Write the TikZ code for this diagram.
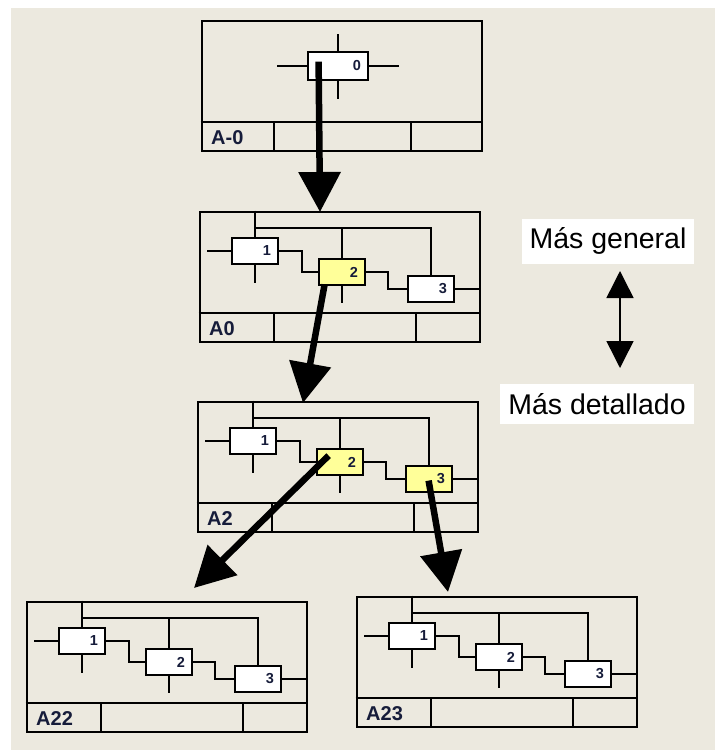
\documentclass[tikz,border=0pt]{standalone}
\usepackage{fontspec}
\setmainfont{Liberation Sans}
\usepackage{tikz}
\usetikzlibrary{arrows.meta}

\definecolor{paper}{HTML}{ECE9DF}
\definecolor{pale}{HTML}{FFFF99}
\definecolor{ink}{HTML}{161C3A}

\tikzset{
  sheet/.style={draw, line width=2.8pt, minimum width=280pt, minimum height=130pt, inner sep=0pt},
  rim/.style={line width=2.8pt},
  act/.style={draw, line width=2.8pt, fill=white, minimum width=46pt, minimum height=26pt,
    inner xsep=7pt, inner ysep=0pt, text width=32pt, align=right,
    font=\fontsize{14.5}{14.5}\selectfont\bfseries, text=ink},
  wire/.style={line width=2pt},
  title/.style={font=\fontsize{20}{20}\selectfont\bfseries, text=ink, inner sep=0pt},
  drill/.style={line width=6.5pt, -{Triangle[length=40pt,width=41pt]}},
  updown/.style={line width=1.5pt, {Triangle[length=27pt,width=27pt]}-{Triangle[length=27pt,width=27pt]}},
  note/.style={fill=white, font=\fontsize{28.5}{30}\selectfont, inner sep=0pt}
}

% one sheet with three activities: name, x, y, title, fill of 2, fill of 3
\newcommand{\sheetthree}[6]{
  \begin{scope}[shift={(#2,#3)}]
    \node[sheet] (#1) at (140,65) {};
    \coordinate (#1-bus) at (0,16);
    \coordinate (#1-strip) at (0,101);
    \node[act] (#1-1) at (55,39) {1};
    \node[act, fill=#5] (#1-2) at (142,60) {2};
    \node[act, fill=#6] (#1-3) at (231,77) {3};
    % controls from the top
    \draw[wire] (#1.north -| #1-1) -- (#1-1.north);
    \draw[wire] (#1-1.north |- #1-bus) -| (#1-3.north);
    \draw[wire] (#1-2 |- #1-bus) -- (#1-2.north);
    % inputs, outputs, mechanisms
    \draw[wire] (#1-1.west) -- ++(-24,0);
    \draw[wire] (#1-1.south) -- ++(0,18);
    \draw[wire] (#1-1.east) -- ++(23,0) |- (#1-2.west);
    \draw[wire] (#1-2.south) -- ++(0,17);
    \draw[wire] (#1-2.east) -- ++(22,0) |- (#1-3.west);
    \draw[wire] (#1-3.east) -- (#1-3.east -| #1.east);
    % title strip
    \draw[rim] (#1.west |- #1-strip) -- (#1.east |- #1-strip);
    \draw[rim] (74,101) -- (74,130);
    \draw[rim] (216,101) -- (216,130);
    \node[title, anchor=base west] (#1-t) at (9,123) {#4};
  \end{scope}
}

\begin{document}
\begin{tikzpicture}[x=1pt, y=-1pt]
  \useasboundingbox (0,0) rectangle (715,750);
  \fill[white] (0,0) rectangle (715,750);
  \fill[paper] (11,8) rectangle (715,750);

  % context sheet A-0
  \begin{scope}[shift={(202,21)}]
    \node[sheet] (top) at (140,65) {};
    \coordinate (top-strip) at (0,101);
    \node[act, minimum width=60pt, minimum height=28pt, text width=46pt] (top-0) at (136,45) {0};
    \draw[wire] (top-0.west) -- ++(-30,0);
    \draw[wire] (top-0.east) -- ++(30,0);
    \draw[wire] (top-0.north) -- ++(0,-17);
    \draw[wire] (top-0.south) -- ++(0,18);
    \draw[rim] (top.west |- top-strip) -- (top.east |- top-strip);
    \draw[rim] (72,101) -- (72,130);
    \draw[rim] (209,101) -- (209,130);
    \node[title, anchor=base west] (top-t) at (9,123) {A-0};
  \end{scope}

  \sheetthree{a0}{200}{212}{A0}{pale}{white}
  \sheetthree{a2}{198}{402}{A2}{pale}{pale}
  \sheetthree{a22}{27}{602}{A22}{white}{white}
  \sheetthree{a23}{357}{597}{A23}{white}{white}

  % decomposition arrows
  \coordinate (t1) at (320,212);
  \coordinate (t2) at (303,403);
  \coordinate (t3) at (194,588);
  \coordinate (t4) at (448,592);
  \draw[drill] ([xshift=12pt,yshift=-11pt]top-0.north west) -- (t1);
  \draw[drill] ([xshift=7pt,yshift=2pt]a0-2.south west) -- (t2);
  \draw[drill] ([xshift=13pt,yshift=-8pt]a2-2.north west) -- (t3);
  \draw[drill] ([xshift=24pt,yshift=-16pt]a2-3.north west) -- (t4);

  % level of detail
  \node[note, minimum width=172pt, minimum height=45pt] (gen) at (608,241) {Más general};
  \node[note, minimum width=194pt, minimum height=40pt] (det) at (597,404) {Más detallado};
  \coordinate (up) at (620,271);
  \coordinate (down) at (620,368);
  \draw[updown] (up) -- (down);
\end{tikzpicture}
\end{document}
